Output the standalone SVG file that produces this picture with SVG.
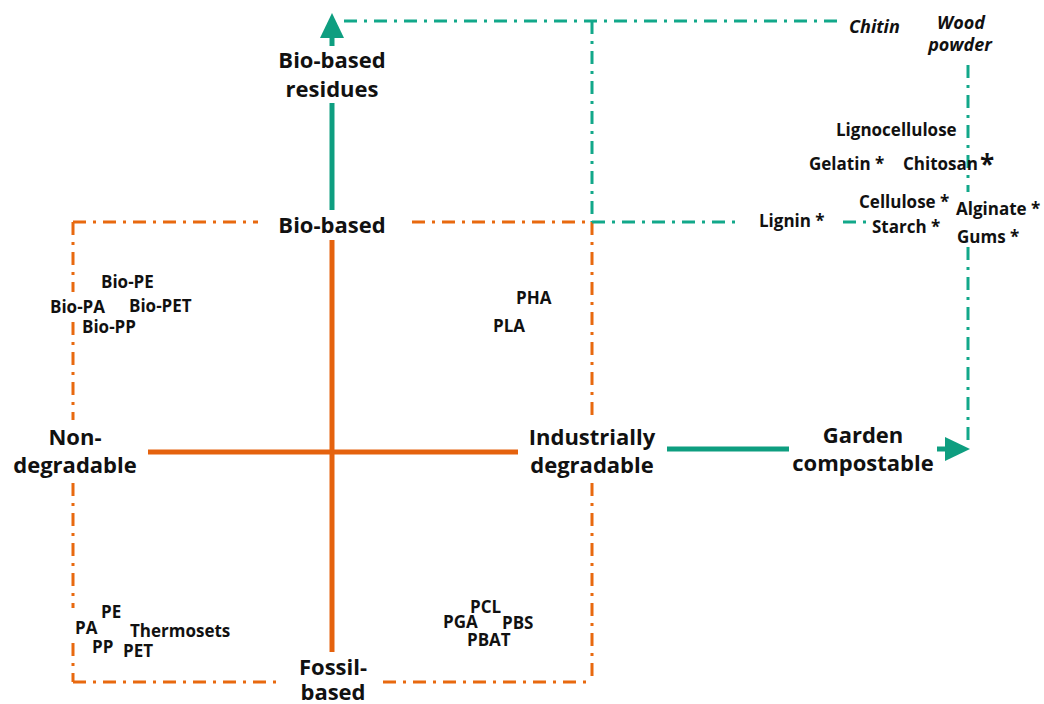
<svg xmlns="http://www.w3.org/2000/svg" width="1044" height="704" viewBox="0 0 1044 704">
  <style>
    text { font-family: "Open Sans", "Noto Sans", "Liberation Sans", sans-serif; font-weight: 700; fill: #111; }
    .axis { font-size: 22px; }
    .item { font-size: 17px; }
    .ital { font-size: 18px; font-style: italic; }
    .mid { text-anchor: middle; }
    .solidO { stroke: #E5620E; stroke-width: 5; fill: none; }
    .solidT { stroke: #0E9E80; stroke-width: 5; fill: none; }
    .dashO { stroke: #E8690F; stroke-width: 3; fill: none; stroke-dasharray: 13 7 3 7; }
    .dashT { stroke: #12A88A; stroke-width: 3; fill: none; stroke-dasharray: 13 7 3 7; }
    .headT { fill: #0E9E80; }
  </style>

  <!-- connectors: quadrant frame, axes and the bio-residue / compostable extensions -->
  <g id="connectors">
    <!-- dash-dot frame of the four quadrants -->
    <path class="dashO" d="M73 222 H258 M412 222 H592"/>
    <path class="dashO" d="M73 682 H283 M383 682 H592"/>
    <path class="dashO" d="M73 222 V292 M73 322 V420 M73 483 V608 M73 643 V682"/>
    <path class="dashO" d="M592 222 V420 M592 483 V682"/>

    <!-- solid axes -->
    <path class="solidO" d="M148 452 H518"/>
    <path class="solidO" d="M332 240 V652"/>

    <!-- upward axis to bio-based residues -->
    <path class="solidT" d="M332 210 V103"/>
    <path class="solidT" d="M332 46 V34"/>
    <polygon class="headT" points="332,13 344,38 320,38"/>

    <!-- rightward axis to garden compostable -->
    <path class="solidT" d="M667 449 H789"/>
    <path class="solidT" d="M937 449 H948"/>
    <polygon class="headT" points="970,449 945,437 945,461"/>

    <!-- dash-dot extensions -->
    <path class="dashT" d="M344 21 H838"/>
    <path class="dashT" d="M592 21 V222"/>
    <path class="dashT" d="M592 222 H741"/>
    <path class="dashT" d="M843 222 H872"/>
    <path class="dashT" d="M968 65 V192 M968 247 V441"/>
  </g>

  <!-- axis labels -->
  <g id="bio-based-residues"><text class="axis mid" x="332" y="68">Bio-based</text><text class="axis mid" x="332" y="97">residues</text></g>
  <g id="bio-based"><text class="axis mid" x="332" y="233">Bio-based</text></g>
  <g id="fossil-based"><text class="axis mid" x="333" y="675">Fossil-</text><text class="axis mid" x="333" y="700">based</text></g>
  <g id="non-degradable"><text class="axis mid" x="75" y="445">Non-</text><text class="axis mid" x="75" y="473">degradable</text></g>
  <g id="industrially-degradable"><text class="axis mid" x="592" y="445">Industrially</text><text class="axis mid" x="592" y="473">degradable</text></g>
  <g id="garden-compostable"><text class="axis mid" x="863" y="443">Garden</text><text class="axis mid" x="863" y="471">compostable</text></g>

  <!-- bio-based, non-degradable -->
  <g id="q-bio-nondeg">
    <text class="item" x="101" y="288">Bio-PE</text>
    <text class="item" x="50" y="313">Bio-PA</text>
    <text class="item" x="129" y="312">Bio-PET</text>
    <text class="item" x="82" y="333">Bio-PP</text>
  </g>

  <!-- bio-based, industrially degradable -->
  <g id="q-bio-deg">
    <text class="item" x="516" y="304">PHA</text>
    <text class="item" x="493" y="332">PLA</text>
  </g>

  <!-- fossil-based, non-degradable -->
  <g id="q-fossil-nondeg">
    <text class="item" x="101" y="618">PE</text>
    <text class="item" x="75" y="634">PA</text>
    <text class="item" x="130" y="637">Thermosets</text>
    <text class="item" x="92" y="653">PP</text>
    <text class="item" x="123" y="657">PET</text>
  </g>

  <!-- fossil-based, industrially degradable -->
  <g id="q-fossil-deg">
    <text class="item" x="470" y="613">PCL</text>
    <text class="item" x="443" y="628">PGA</text>
    <text class="item" x="502" y="629">PBS</text>
    <text class="item" x="467" y="646">PBAT</text>
  </g>

  <!-- bio-based residues, garden compostable -->
  <g id="q-residues">
    <text class="ital" x="849" y="33">Chitin</text>
    <text class="ital mid" x="961" y="29">Wood</text>
    <text class="ital mid" x="960" y="51">powder</text>
    <text class="item" x="836" y="136">Lignocellulose</text>
    <text class="item" x="809" y="170">Gelatin *</text>
    <text class="item" x="903" y="170">Chitosan</text>
    <text class="item" x="980" y="174" style="font-size:26px">*</text>
    <text class="item" x="859" y="208">Cellulose *</text>
    <text class="item" x="956" y="215">Alginate *</text>
    <text class="item" x="759" y="227">Lignin *</text>
    <text class="item" x="872" y="233">Starch *</text>
    <text class="item" x="957" y="243">Gums *</text>
  </g>
</svg>
